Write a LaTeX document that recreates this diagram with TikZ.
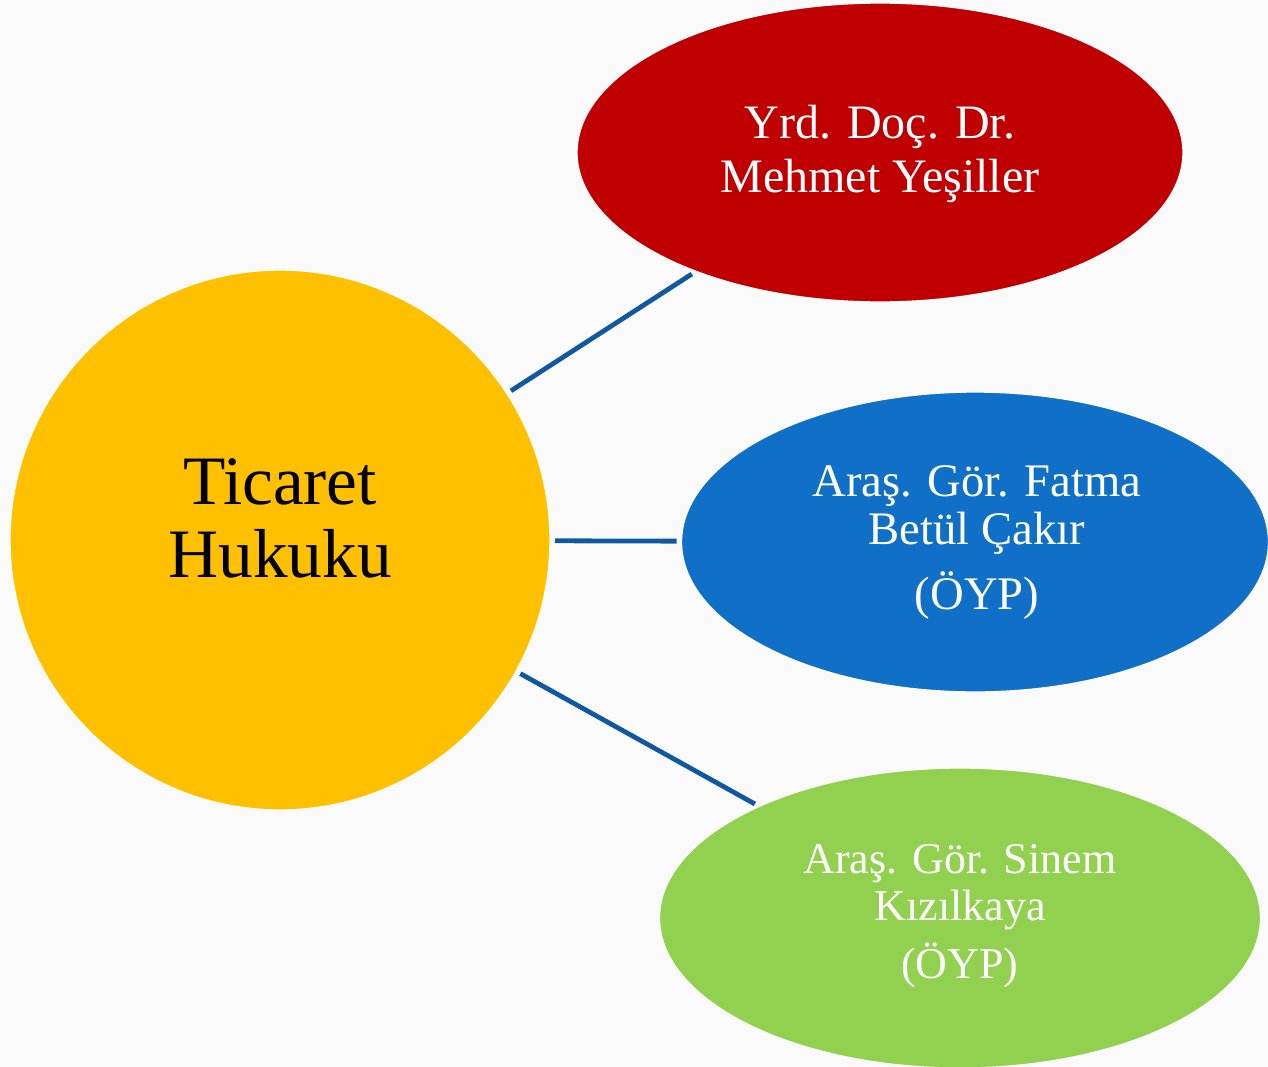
\documentclass[tikz,border=0pt]{standalone}
\usepackage{fontspec}
\setmainfont{Liberation Serif}
\usetikzlibrary{shapes.geometric}
\definecolor{bgcol}{RGB}{250,250,250}
\definecolor{hukyellow}{RGB}{255,192,0}
\definecolor{hukred}{RGB}{192,0,0}
\definecolor{hukblue}{RGB}{16,112,200}
\definecolor{hukgreen}{RGB}{146,208,80}
\definecolor{linkcol}{RGB}{16,89,160}
\tikzset{
  bubble/.style={ellipse, draw=white, line width=1pt, inner sep=0pt, outer sep=0pt},
  hub/.style={circle, draw=white, line width=1pt, inner sep=0pt, outer sep=0pt,
    fill=hukyellow, minimum size=405pt},
  wtext/.style={text=white, align=center, inner sep=0pt},
  link/.style={draw=white, line width=0.6pt, double=linkcol, double distance=3.6pt,
    shorten <=3.75pt, shorten >=3.75pt}
}
\begin{document}
\begin{tikzpicture}[x=0.75pt,y=-0.75pt]
\useasboundingbox (0,0) rectangle (1268,1067);
\fill[bgcol] (0,0) rectangle (1268,1067);
\begin{scope}
\clip (0,0) rectangle (1268,1067);
\node[hub] (hub) at (280,540) {};
\node[bubble, fill=hukred, minimum width=454.5pt, minimum height=224.25pt] (red) at (880,152.5) {};
\node[bubble, fill=hukblue, minimum width=440.25pt, minimum height=225pt] (blue) at (975,542) {};
\node[bubble, fill=hukgreen, minimum width=450.75pt, minimum height=225pt] (green) at (960,918) {};
\end{scope}
\draw[link] (hub) -- (red);
\draw[link] (hub) -- (blue);
\draw[link] (hub) -- (green);
\node[align=center, inner sep=0pt, font={\fontsize{52}{55}\selectfont}] (hubtext) at (280,518.5) {Ticaret\\Hukuku};
\node[wtext, font={\fontsize{36}{40.5}\selectfont}] (redtext) at (880,153.5) {Yrd. Doç. Dr.\\Mehmet Yeşiller};
\node[wtext, font={\fontsize{35}{36}\selectfont}] (bluetext) at (977,543) {Araş. Gör. Fatma\\Betül Çakır\\[12.75pt](ÖYP)};
\node[wtext, font={\fontsize{33}{35.25}\selectfont}] (greentext) at (960,916) {Araş. Gör. Sinem\\Kızılkaya\\[8.5pt](ÖYP)};
\end{tikzpicture}
\end{document}
